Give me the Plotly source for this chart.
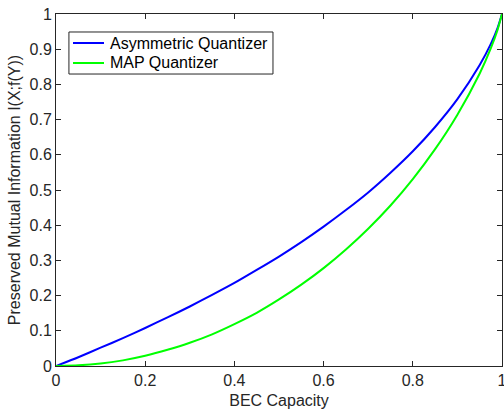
import plotly.graph_objects as go

# ── Data ──
capacity = [0, 0.05, 0.1, 0.15, 0.2, 0.25, 0.3, 0.35, 0.4, 0.45, 0.5,
            0.55, 0.6, 0.65, 0.7, 0.75, 0.8, 0.85, 0.9, 0.95, 0.975, 0.99, 1]
asym_quant = [0, 0.025, 0.052, 0.079, 0.108, 0.138, 0.169, 0.202, 0.236, 0.273, 0.311,
              0.352, 0.396, 0.443, 0.493, 0.549, 0.610, 0.679, 0.758, 0.855, 0.915, 0.960, 1]
map_quant = [0, 0.002, 0.007, 0.016, 0.029, 0.046, 0.066, 0.090, 0.119, 0.151, 0.189,
             0.231, 0.278, 0.331, 0.390, 0.456, 0.531, 0.616, 0.714, 0.831, 0.903, 0.955, 1]
yticks = [0, 0.1, 0.2, 0.3, 0.4, 0.5, 0.6, 0.7, 0.8, 0.9, 1]
xticks = [0, 0.2, 0.4, 0.6, 0.8, 1]

names = ['Asymmetric Quantizer', 'MAP Quantizer']
colors = ['#0000FF', '#00FF00']

axis_col = '#262626'
font = 'Liberation Sans, Arial, sans-serif'

fig = go.Figure()
for y, name, col in zip([asym_quant, map_quant], names, colors):
    fig.add_trace(go.Scatter(
        x=capacity, y=y, mode='lines', name=name, showlegend=False,
        line=dict(color=col, width=2, shape='spline', smoothing=0.6)
    ))

axis_style = dict(
    showgrid=False, zeroline=False, showline=True, linecolor=axis_col, linewidth=1,
    mirror='ticks', ticks='inside', ticklen=5, tickcolor=axis_col, automargin=False,
    ticklabeloverflow='allow',
    tickfont=dict(size=16, color=axis_col, family=font),
)

fig.update_xaxes(range=[0, 1], tickvals=xticks, ticktext=[f'{v:g}' for v in xticks],
                 title=dict(text='BEC Capacity', font=dict(size=16, color=axis_col, family=font), standoff=6),
                 **axis_style)
fig.update_yaxes(range=[0, 1], tickvals=yticks, ticktext=[f'{v:g}' for v in yticks],
                 title=dict(text='Preserved Mutual Information I(X;f(Y))',
                            font=dict(size=16, color=axis_col, family=font), standoff=4),
                 **axis_style)

# ── MATLAB-style legend box (drawn by hand for tight spacing) ──
fig.add_shape(type='rect', xref='paper', yref='paper', x0=0.029, x1=0.4865, y0=0.8295, y1=0.9489,
              line=dict(color=axis_col, width=1), fillcolor='white', layer='above')
for i, (name, col) in enumerate(zip(names, colors)):
    ly = 0.9176 - i * 0.0568
    fig.add_shape(type='line', xref='paper', yref='paper', x0=0.0381, x1=0.1076, y0=ly, y1=ly,
                  line=dict(color=col, width=2), layer='above')
    fig.add_annotation(text=name, xref='paper', yref='paper', x=0.1166, y=ly,
                       xanchor='left', yanchor='middle', showarrow=False,
                       font=dict(size=16, color='black', family=font))

fig.update_layout(
    width=504, height=412, autosize=False,
    margin=dict(l=56, r=2, t=14, b=46),
    plot_bgcolor='white', paper_bgcolor='white',
    font=dict(family=font, color=axis_col),
)

# drop the page's default body margin so the figure fills the window
fig.write_html('out.html', config={'displayModeBar': False},
               post_script="document.body.style.margin='0';")
